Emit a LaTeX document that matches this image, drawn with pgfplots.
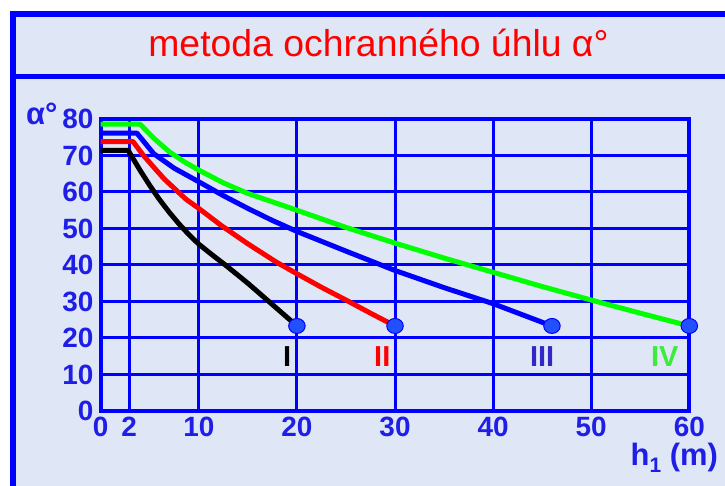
\documentclass[border=0pt]{standalone}
\usepackage{fontspec}
\setmainfont{Liberation Sans}
\usepackage{pgfplots}
\pgfplotsset{compat=1.18}
\definecolor{bgc}{RGB}{223,230,245}
\definecolor{tickblue}{RGB}{30,30,230}
\definecolor{dotblue}{RGB}{35,80,255}
\definecolor{indigo}{RGB}{50,40,200}
\definecolor{lgreen}{RGB}{60,235,60}
\definecolor{cgreen}{RGB}{0,255,0}
\begin{document}
\begin{tikzpicture}[x=1bp,y=1bp]
\useasboundingbox (0,0) rectangle (725,486);
\fill[white] (0,0) rectangle (725,486);
\begin{scope}
\clip (0,0) rectangle (725,486);
\draw[blue, line width=5.5bp, fill=bgc] (13,-20) rectangle (745,472);
\draw[blue, line width=5bp] (13,409.5) -- (745,409.5);
\end{scope}
\node[anchor=base, text=red, font=\fontsize{37.5}{40}\selectfont, inner sep=0] at (378.5,429.3) {metoda ochranného úhlu α°};
\begin{axis}[
  at={(100.7bp,75bp)}, anchor=south west,
  scale only axis, width=588.6bp, height=292bp,
  xmin=0, xmax=60, ymin=0, ymax=80,
  xtick={0,2.9,10,20,30,40,50,60},
  xticklabels={0,2,10,20,30,40,50,60},
  ytick={0,10,20,30,40,50,60,70,80},
  yticklabels={0,10,20,30,40,50,60,70,80},
  grid=major,
  major grid style={blue, line width=3bp},
  axis line style={blue, line width=4bp},
  major tick length=0pt,
  tick label style={text=tickblue, font=\fontsize{28}{28}\selectfont\bfseries},
  yticklabel style={inner sep=1bp, xshift=-6bp},
  xticklabel style={inner sep=1bp, yshift=-5bp},
  clip=false,
]
\addplot[black, line width=5bp, line join=round] coordinates {
(0,71.4) (2.8,71.4) (4,66) (5,61.8) (6,57.9) (7,54.4) (8,51.2) (9,48.3) (10,45.7) (11.4,42.7) (12.8,39.8) (15,35) (17.1,30.1) (20,23.3)};
\addplot[red, line width=5bp, line join=round] coordinates {
(0,73.8) (3.3,73.8) (4.3,70.2) (5.5,66.5) (6.5,63.5) (7.5,61) (8.7,58) (10,55.5) (12.3,50.8) (15,45.8) (17.9,40.8) (20,37.6) (22.5,33.9) (25,30.4) (27.5,26.8) (30,23.3)};
\addplot[blue, line width=5bp, line join=round] coordinates {
(0,76.1) (3.7,76.1) (5.4,70.5) (7.5,66.5) (10,62.8) (12.5,59) (15,55.5) (17.5,52.2) (20,49.2) (25,43.8) (30,38.5) (35,33.8) (40,29.4) (46,23.3)};
\addplot[cgreen, line width=5bp, line join=round] coordinates {
(0,78.6) (4,78.6) (5.5,74.5) (7,71) (8.5,68.3) (10,66) (12.5,62.5) (15,59.6) (20,55) (25,50.3) (30,46) (35,41.9) (40,38) (45,34.1) (50,30.4) (55,26.8) (60,23.3)};
\addplot[only marks, mark=*, mark size=7.5bp, mark options={fill=dotblue, draw=blue, line width=1bp, xscale=1.1}] coordinates {
(20,23.3) (30,23.3) (46,23.3) (60,23.3)};
\node[font=\fontsize{29}{29}\selectfont\bfseries, text=black] at (axis cs:19,15) {I};
\node[font=\fontsize{29}{29}\selectfont\bfseries, text=red] at (axis cs:28.7,15) {II};
\node[font=\fontsize{29}{29}\selectfont\bfseries, text=indigo] at (axis cs:45,15) {III};
\node[font=\fontsize{29}{29}\selectfont\bfseries, text=lgreen] at (axis cs:57.5,15) {IV};
\end{axis}
\node[anchor=base west, inner sep=0, font=\fontsize{31}{31}\selectfont\bfseries, text=tickblue] at (26,361) {α°};
\node[anchor=base east, inner sep=0, font=\fontsize{31}{31}\selectfont\bfseries, text=tickblue] at (718,20) {h\raisebox{-0.22em}{\fontsize{21}{21}\selectfont\bfseries 1} (m)};
\end{tikzpicture}
\end{document}
